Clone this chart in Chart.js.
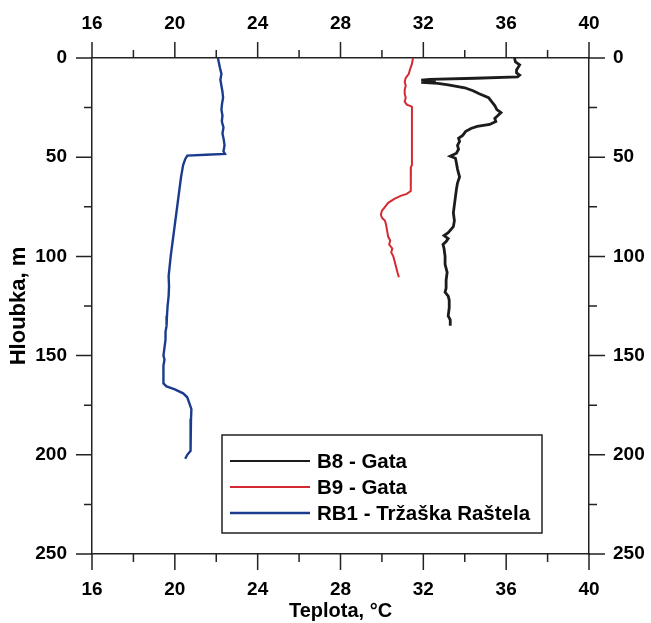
<!DOCTYPE html>
<html>
<head>
<meta charset="utf-8">
<script src="https://cdn.jsdelivr.net/npm/chart.js@4.4.0/dist/chart.umd.min.js"></script>
<style>
  body { margin: 0; background: #fff; }
  #box { width: 651px; height: 623px; }
</style>
</head>
<body>
<div id="box"><canvas id="grafico"></canvas></div>
<script>
// B8 - Gata (hloubka m / teplota °C)
const hloubkaB8 = [0, 2, 3.5, 6, 7.5, 8.6, 9.5, 10.2, 10.8, 11.2, 11.8, 12.3, 12.8, 13.5, 15, 16.5, 18, 20, 22, 24, 26, 27.5, 29, 30.5, 32, 33.5, 34.5, 35.5, 37, 39, 40.5, 42, 44, 46, 48, 49.5, 50.5, 53, 56, 58, 60, 63, 66, 70, 74, 78, 82, 85, 88, 89.5, 91, 92.5, 94, 96, 100, 104, 108, 112, 116, 118, 120, 122, 126, 130, 132, 135]
const teplotaB8 = [36.4, 36.45, 36.65, 36.5, 36.5, 36.65, 36.55, 34.5, 32.3, 31.9, 32.6, 31.9, 32.7, 33.2, 34.0, 34.4, 34.7, 35.15, 35.3, 35.45, 35.55, 35.75, 35.6, 35.45, 35.5, 35.2, 34.6, 34.3, 34.05, 33.9, 33.7, 33.75, 33.65, 33.7, 33.6, 33.3, 33.55, 33.6, 33.65, 33.7, 33.75, 33.65, 33.6, 33.55, 33.5, 33.45, 33.5, 33.45, 33.2, 33.0, 33.2, 33.1, 32.95, 33.0, 33.05, 33.05, 33.15, 33.1, 33.1, 33.05, 33.2, 33.25, 33.25, 33.2, 33.3, 33.3]

// B9 - Gata
const hloubkaB9 = [0, 3, 6, 8, 10, 12, 14, 16, 18, 20, 22, 23.5, 24.5, 30, 40, 50, 54, 55, 60, 64, 67, 68.5, 69.5, 71, 73, 75, 77, 79, 80.5, 82, 84, 87, 90, 92, 94, 96, 98, 100, 102, 104, 106, 108, 110.5]
const teplotaB9 = [31.5, 31.45, 31.35, 31.3, 31.15, 31.1, 31.15, 31.1, 31.1, 31.15, 31.1, 31.2, 31.45, 31.45, 31.45, 31.45, 31.45, 31.4, 31.4, 31.38, 31.4, 31.2, 30.9, 30.6, 30.3, 30.15, 30.0, 29.95, 30.0, 30.15, 30.2, 30.25, 30.3, 30.4, 30.35, 30.5, 30.45, 30.55, 30.6, 30.65, 30.7, 30.75, 30.82]

// RB1 - Tržaška Raštela
const hloubkaRB1 = [0, 2, 5, 8, 11, 14, 17, 20, 23, 26, 29, 32, 35, 38, 41, 44, 47, 48.3, 48.8, 49.2, 51, 54, 57, 60, 64, 68, 72, 76, 80, 84, 88, 92, 96, 100, 105, 110, 115, 120, 125, 130, 135, 138, 142, 146, 150, 152, 155, 160, 164, 165.5, 167, 169, 171, 174, 177, 182, 188, 194, 198, 200, 202]
const teplotaRB1 = [22.08, 22.12, 22.18, 22.25, 22.2, 22.25, 22.3, 22.33, 22.28, 22.25, 22.3, 22.27, 22.35, 22.3, 22.36, 22.4, 22.35, 22.42, 21.5, 20.6, 20.5, 20.4, 20.35, 20.3, 20.25, 20.2, 20.15, 20.1, 20.05, 20.0, 19.95, 19.9, 19.85, 19.8, 19.75, 19.7, 19.72, 19.7, 19.65, 19.62, 19.6, 19.55, 19.55, 19.5, 19.45, 19.5, 19.45, 19.45, 19.45, 19.6, 20.0, 20.4, 20.6, 20.7, 20.8, 20.78, 20.78, 20.75, 20.75, 20.6, 20.5]

const nazvy = ["B8 - Gata", "B9 - Gata", "RB1 - Tržaška Raštela"]
const barvy = ["#1c1c1c", "#d42a32", "#1b3c8e"]

const xMin = 16, xMax = 40
const yMin = 0, yMax = 250

function body (hloubky, teploty) {
    return hloubky.map((h, i) => ({ x: teploty[i], y: h }))
}

const pismo = "'Liberation Sans', Arial, sans-serif"

// carky na osach (hlavni a vedlejsi), ven z grafu
const carky = {
    id: "carky",
    afterDraw (chart) {
        const ctx = chart.ctx
        const a = chart.chartArea
        ctx.save()
        ctx.strokeStyle = "#222"
        ctx.lineWidth = 1.5
        ctx.beginPath()
        for (let v = xMin; v <= xMax; v += 2) {
            const px = chart.scales.x.getPixelForValue(v)
            const len = (v - xMin) % 4 === 0 ? 16 : 8
            ctx.moveTo(px, a.bottom); ctx.lineTo(px, a.bottom + len)
            ctx.moveTo(px, a.top); ctx.lineTo(px, a.top - len)
        }
        for (let v = yMin; v <= yMax; v += 25) {
            const py = chart.scales.y.getPixelForValue(v)
            const len = v % 50 === 0 ? 16 : 8
            ctx.moveTo(a.left, py); ctx.lineTo(a.left - len, py)
            ctx.moveTo(a.right, py); ctx.lineTo(a.right + len, py)
        }
        ctx.stroke()

        // legenda v ramecku
        const lx = 222, ly = 435, lw = 320, lh = 98
        ctx.fillStyle = "#fff"
        ctx.fillRect(lx, ly, lw, lh)
        ctx.strokeStyle = "#222"
        ctx.lineWidth = 1.5
        ctx.strokeRect(lx, ly, lw, lh)
        ctx.font = "bold 20.5px " + pismo
        ctx.textBaseline = "middle"
        chart.data.datasets.forEach((ds, i) => {
            const yy = ly + 26 + i * 26
            ctx.strokeStyle = ds.borderColor
            ctx.lineWidth = i === 2 ? 2.5 : 2
            ctx.beginPath()
            ctx.moveTo(lx + 8, yy); ctx.lineTo(lx + 88, yy)
            ctx.stroke()
            ctx.fillStyle = "#000"
            ctx.fillText(ds.label, lx + 95, yy + 1)
        })
        ctx.restore()
    }
}

function osaX (pozice, sirka, popis) {
    return {
        type: "linear",
        position: pozice,
        min: xMin, max: xMax,
        grid: { display: false, drawTicks: false },
        border: { display: true, color: "#222", width: 1.5 },
        ticks: { stepSize: 4, padding: pozice === "top" ? 23 : 24, color: "#000", font: { family: pismo, size: 19, weight: "bold" } },
        title: popis ? { display: true, text: popis, color: "#000", padding: { top: 0, bottom: 0 }, font: { family: pismo, size: 20, weight: "bold" } } : { display: false },
        afterFit (s) { s.height = sirka }
    }
}

function osaY (pozice, sirka, popis) {
    return {
        type: "linear",
        position: pozice,
        reverse: true,
        min: yMin, max: yMax,
        grid: { display: false, drawTicks: false },
        border: { display: true, color: "#222", width: 1.5 },
        ticks: { stepSize: 50, padding: pozice === "left" ? 25 : 24, color: "#000", font: { family: pismo, size: 19, weight: "bold" } },
        title: popis ? { display: true, text: popis, color: "#000", padding: { top: 6, bottom: 0 }, font: { family: pismo, size: 22, weight: "bold" } } : { display: false },
        afterFit (s) { s.width = sirka }
    }
}

const grafico = document.getElementById("grafico").getContext("2d")
const myChart = new Chart(grafico, {
    type: "scatter",
    data: {
        datasets: [
            { label: nazvy[0], data: body(hloubkaB8, teplotaB8), borderColor: barvy[0], borderWidth: 2.8, showLine: true, pointRadius: 0, xAxisID: "x", yAxisID: "y" },
            { label: nazvy[1], data: body(hloubkaB9, teplotaB9), borderColor: barvy[1], borderWidth: 2, showLine: true, pointRadius: 0, xAxisID: "x", yAxisID: "y" },
            { label: nazvy[2], data: body(hloubkaRB1, teplotaRB1), borderColor: barvy[2], borderWidth: 2.4, showLine: true, pointRadius: 0, xAxisID: "x", yAxisID: "y" }
        ]
    },
    options: {
        responsive: true,
        maintainAspectRatio: false,
        animation: false,
        layout: { padding: 0 },
        plugins: {
            legend: { display: false },
            tooltip: { enabled: false }
        },
        scales: {
            x: osaX("bottom", 69, "Teplota, °C"),
            x2: osaX("top", 58, null),
            y: osaY("left", 92, "Hloubka, m"),
            y2: osaY("right", 62, null)
        }
    },
    plugins: [carky]
})
</script>
</body>
</html>
